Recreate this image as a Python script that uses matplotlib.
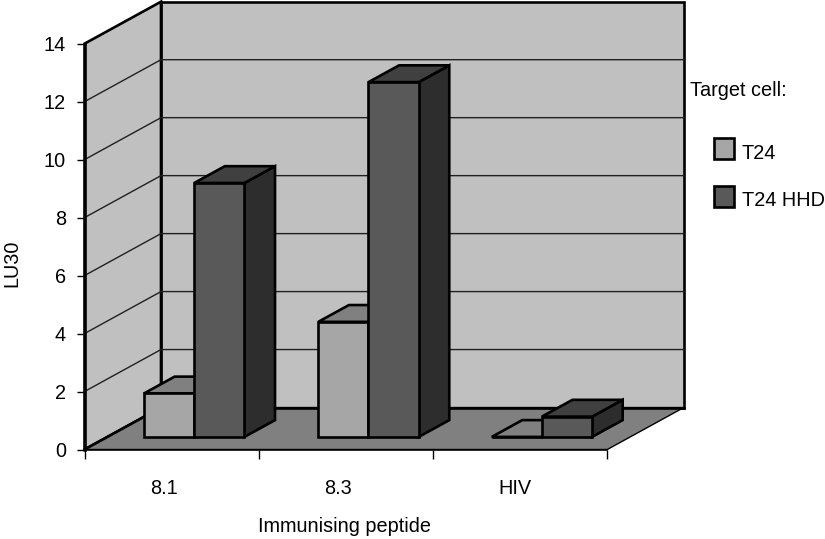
import matplotlib
matplotlib.use("Agg")
import matplotlib.pyplot as plt
from matplotlib.patches import Polygon, Rectangle

plt.rcParams['font.family'] = ['Liberation Sans', 'DejaVu Sans']

categories = ['8.1', '8.3', 'HIV']
t24_values = [1.5, 3.97, 0.0]
hhd_values = [8.76, 12.24, 0.7]
y_ticks = [0, 2, 4, 6, 8, 10, 12, 14]
series_names = ['T24', 'T24 HHD']

W, H = 825, 539
# depth of the 3d box, in data units (x = categories, y = LU30)
DX = 76.5 / 174.3
DY = 42 / 29.0
BAR_W = 0.288
BAR_OFF = [0.21, 0.21, 0.205]
D0, D1 = 0.30, 0.70
FS = 14.3

WALL = '#c0c0c0'
FLOOR = '#808080'
T24_COLS = {'front': '#a6a6a6', 'top': '#808080', 'side': '#6a6a6a'}
HHD_COLS = {'front': '#595959', 'top': '#404040', 'side': '#2d2d2d'}
LINE = '#000000'


def pt(x, y, d=0.0):
    return (x + DX * d, y + DY * d)


def face(ax, pts, color, lw=1.9, z=1):
    ax.add_patch(Polygon(pts, closed=True, facecolor=color, edgecolor=LINE,
                         linewidth=lw, joinstyle='miter', clip_on=False, zorder=z))


def bar3d(ax, x0, w, h, cols, z):
    x1 = x0 + w
    face(ax, [pt(x1, 0, D0), pt(x1, 0, D1), pt(x1, h, D1), pt(x1, h, D0)], cols['side'], z=z)
    face(ax, [pt(x0, h, D0), pt(x1, h, D0), pt(x1, h, D1), pt(x0, h, D1)], cols['top'], z=z)
    face(ax, [pt(x0, 0, D0), pt(x1, 0, D0), pt(x1, h, D0), pt(x0, h, D0)], cols['front'], z=z)


fig = plt.figure(figsize=(W / 100, H / 100), dpi=100)
ax = fig.add_axes([84.5 / W, (H - 449.5) / H, (607.3 - 84.5) / W, (449.5 - 43.7) / H])
ax.set_xlim(0, 3)
ax.set_ylim(0, 14)
ax.patch.set_visible(False)

# walls and floor
face(ax, [pt(0, 0, 1), pt(3, 0, 1), pt(3, 14, 1), pt(0, 14, 1)], WALL, z=0.5)
face(ax, [pt(0, 0), pt(0, 14), pt(0, 14, 1), pt(0, 0, 1)], WALL, z=0.5)
face(ax, [pt(0, 0), pt(3, 0), pt(3, 0, 1), pt(0, 0, 1)], FLOOR, lw=1.0, z=0.6)
ax.plot(*zip(pt(0, 0), pt(0, 0, 1)), color=LINE, lw=1.9, clip_on=False, zorder=0.7)
ax.plot(*zip(pt(0, 0, 1), pt(3, 0, 1)), color=LINE, lw=1.9, clip_on=False, zorder=0.7)

for v in y_ticks[1:-1]:
    ax.plot(*zip(pt(0, v), pt(0, v, 1), pt(3, v, 1)), color='#202020', lw=1.0,
            clip_on=False, zorder=0.8)

for i in range(len(categories)):
    bar3d(ax, i + BAR_OFF[i], BAR_W, t24_values[i], T24_COLS, 2 + i)
    bar3d(ax, i + BAR_OFF[i] + BAR_W, BAR_W, hhd_values[i], HHD_COLS, 2.5 + i)

for s in ['top', 'right']:
    ax.spines[s].set_visible(False)
ax.spines['left'].set_linewidth(1.9)
ax.spines['bottom'].set_linewidth(1.1)
ax.spines['left'].set_zorder(10)
ax.spines['bottom'].set_zorder(10)

ax.set_yticks(y_ticks)
ax.set_xticks([0, 1, 2, 3])
ax.set_xticklabels([])
ax.set_xticks([0.456, 1.456, 2.47], minor=True)
ax.set_xticklabels(categories, minor=True, fontsize=FS)
ax.tick_params(axis='x', which='minor', length=0, pad=21.5)
ax.tick_params(axis='x', which='major', length=6.5, width=1.0)
ax.tick_params(axis='y', length=6, width=1.0, labelsize=FS, pad=7.5)

fig.text(12 / W, (H - 263) / H, 'LU30', rotation=90, ha='center', va='center', fontsize=FS)
fig.text(344 / W, (H - 527) / H, 'Immunising peptide', ha='center', va='center', fontsize=FS)
fig.text(690 / W, (H - 91) / H, 'Target cell:', ha='left', va='center', fontsize=FS)

# legend keys sit a bit above their labels, as in the original
key_tops = [138, 185.5]
key_cols = [T24_COLS['front'], HHD_COLS['front']]
for name, top, col in zip(series_names, key_tops, key_cols):
    fig.add_artist(Rectangle((713.5 / W, (H - top - 21) / H), 20 / W, 21 / H, facecolor=col,
                             edgecolor=LINE, linewidth=1.9, transform=fig.transFigure))
    fig.text(742 / W, (H - top - 15.5) / H, name, ha='left', va='center', fontsize=FS)

fig.savefig('out.png', dpi=100)
